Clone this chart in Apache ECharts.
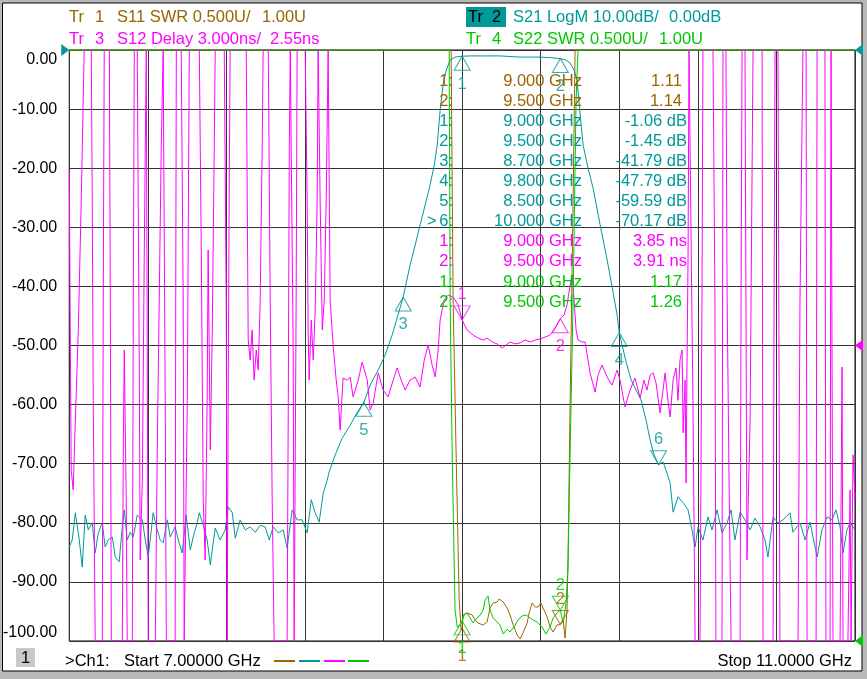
<!DOCTYPE html>
<html>
<head>
<meta charset="utf-8">
<script src="https://cdn.jsdelivr.net/npm/echarts@6/dist/echarts.min.js"></script>
<style>
html,body{margin:0;padding:0;background:#b8b8b8;}
#vna{width:867px;height:679px;}
</style>
</head>
<body>
<div id="vna"></div>
<script>
// sweep 7..11 GHz, [GHz, value] pairs
var s11Swr = [[7.000,6.0],[8.944,6.0],[8.954,3.885],[8.969,2.616],[8.985,1.347],[8.995,1.093],[9.000,1.11],[9.005,1.22],[9.025,1.237],[9.051,1.22],[9.066,1.178],[9.081,1.152],[9.107,1.135],[9.127,1.161],[9.142,1.279],[9.158,1.321],[9.178,1.33],[9.188,1.355],[9.209,1.33],[9.229,1.279],[9.244,1.22],[9.260,1.135],[9.280,1.051],[9.295,1.017],[9.310,1.068],[9.331,1.152],[9.341,1.237],[9.356,1.321],[9.372,1.288],[9.387,1.288],[9.402,1.321],[9.412,1.279],[9.433,1.203],[9.448,1.118],[9.463,1.076],[9.483,1.135],[9.500,1.14],[9.514,1.178],[9.524,1.025],[9.534,1.262],[9.539,1.685],[9.550,3.04],[9.565,4.73],[9.575,6.0],[11.000,6.0]];

var s21LogM = [[7.000,-84.1],[7.015,-82.9],[7.031,-78.3],[7.041,-78.2],[7.051,-82.9],[7.066,-87.5],[7.081,-78.7],[7.097,-81.2],[7.117,-80.0],[7.132,-85.1],[7.148,-81.7],[7.168,-80.0],[7.183,-84.1],[7.198,-82.9],[7.219,-82.4],[7.234,-85.8],[7.254,-86.6],[7.270,-80.7],[7.280,-77.8],[7.295,-82.9],[7.310,-81.6],[7.326,-82.4],[7.346,-78.7],[7.372,-79.5],[7.387,-82.9],[7.402,-85.8],[7.412,-82.9],[7.427,-78.3],[7.448,-81.2],[7.463,-82.9],[7.478,-83.4],[7.499,-79.5],[7.514,-82.4],[7.539,-80.7],[7.555,-82.9],[7.575,-85.1],[7.595,-78.7],[7.616,-84.6],[7.631,-82.4],[7.651,-80.0],[7.662,-78.3],[7.682,-80.4],[7.702,-82.9],[7.718,-87.1],[7.743,-80.9],[7.768,-82.9],[7.794,-81.2],[7.809,-77.3],[7.830,-78.3],[7.845,-82.6],[7.870,-79.5],[7.896,-81.2],[7.921,-80.7],[7.947,-81.6],[7.972,-80.4],[7.997,-80.7],[8.018,-82.9],[8.038,-80.7],[8.064,-81.7],[8.089,-81.2],[8.109,-84.3],[8.135,-77.8],[8.160,-79.5],[8.186,-79.5],[8.211,-81.7],[8.232,-76.1],[8.252,-78.3],[8.272,-79.9],[8.293,-75.0],[8.313,-72.8],[8.323,-71.4],
  [8.354,-68.5],[8.389,-65.7],[8.430,-63.5],[8.466,-61.3],[8.500,-59.59],[8.532,-56.7],[8.573,-54.1],[8.608,-51.6],[8.644,-48.2],[8.674,-44.8],[8.700,-41.79],[8.735,-36.4],[8.761,-33.0],[8.786,-29.6],[8.812,-26.2],[8.837,-22.8],[8.858,-19.5],[8.873,-16.1],[8.888,-10.2],[8.903,-5.9],[8.919,-3.4],[8.939,-1.7],[8.964,-1.2],[9.000,-1.06],[9.041,-1.0],[9.092,-1.0],[9.142,-1.0],[9.193,-1.0],[9.244,-1.1],[9.295,-1.2],[9.346,-1.2],[9.397,-1.2],[9.448,-1.3],[9.500,-1.45],[9.529,-1.7],[9.550,-2.2],[9.570,-3.4],[9.585,-5.1],[9.601,-11.0],[9.616,-16.1],[9.641,-20.0],[9.667,-23.4],[9.702,-29.5],[9.738,-35.5],[9.763,-40.0],[9.789,-44.8],[9.800,-47.79],[9.814,-49.9],[9.835,-52.8],[9.860,-55.8],[9.885,-57.5],[9.911,-59.2],[9.936,-62.6],[9.957,-66.0],[9.977,-68.5],[10.000,-70.17],[10.023,-69.7],[10.043,-71.6],[10.059,-73.3],[10.074,-78.2],[10.099,-75.6],[10.125,-76.6],[10.150,-77.8],
  [10.170,-81.2],[10.186,-84.1],[10.201,-80.7],[10.226,-82.9],[10.252,-79.0],[10.272,-81.2],[10.298,-77.8],[10.323,-81.7],[10.349,-80.0],[10.369,-77.8],[10.389,-82.9],[10.415,-78.2],[10.440,-79.5],[10.466,-81.2],[10.491,-79.2],[10.517,-80.7],[10.542,-82.9],[10.557,-85.8],[10.583,-79.0],[10.608,-80.0],[10.634,-79.5],[10.669,-78.3],[10.684,-81.6],[10.720,-80.0],[10.746,-82.9],[10.771,-79.9],[10.807,-85.8],[10.832,-81.2],[10.858,-79.0],[10.883,-79.5],[10.903,-77.8],[10.924,-80.7],[10.939,-85.1],[10.959,-81.2],[10.975,-80.0],[10.990,-80.7],[11.000,-81.2]];

// group delay, ns (off-scale parts sit on the top / bottom edge)
var s12Delay = [[7.000,11.36],[7.005,3.34],[7.010,-3.77],[7.020,-4.78],[7.031,-1.23],[7.046,3.34],[7.061,9.94],[7.076,17.55],
  [7.112,17.55],[7.117,9.94],[7.122,-0.24],[7.132,-12.45],
  [7.168,-12.45],[7.173,4.86],[7.178,17.55],
  [7.204,17.55],[7.209,4.86],[7.214,-12.45],
  [7.270,-12.45],[7.275,-2.75],[7.280,2.32],[7.290,-5.29],[7.295,-12.45],
  [7.321,-12.45],[7.326,4.86],[7.331,17.55],
  [7.346,17.55],[7.356,2.32],[7.361,-8.34],[7.372,-4.28],[7.382,7.40],[7.392,17.55],
  [7.397,17.55],[7.402,-12.45],
  [7.438,-12.45],[7.448,-2.75],[7.458,4.86],[7.468,12.47],[7.478,17.55],
  [7.483,17.55],[7.489,-1.23],[7.494,-12.45],
  [7.539,-12.45],[7.542,4.86],[7.545,17.55],
  [7.570,17.55],[7.580,4.86],[7.585,-12.45],
  [7.595,-12.45],[7.601,-0.24],[7.611,17.55],
  [7.662,17.55],[7.672,7.40],[7.682,-5.29],[7.692,-8.34],[7.702,-0.24],[7.707,7.40],[7.718,-2.75],[7.728,3.34],[7.738,12.47],[7.743,17.55],
  [7.789,17.55],[7.799,4.86],[7.804,-12.45],[7.809,-0.24],[7.814,9.94],[7.819,17.55],
  [7.901,17.55],[7.906,9.94],[7.911,2.83],[7.921,1.81],[7.931,3.34],[7.941,0.79],[7.952,2.32],[7.962,1.30],[7.972,4.86],[7.982,12.47],[7.987,17.55],
  [8.013,17.55],[8.023,4.86],[8.033,-5.29],[8.043,-12.45],
  [8.109,-12.45],[8.115,-0.24],[8.120,12.47],[8.125,17.55],
  [8.135,17.55],[8.140,2.32],[8.145,-12.45],[8.150,-12.45],[8.155,4.86],[8.160,17.55],
  [8.201,17.55],[8.211,9.94],[8.216,3.34],[8.221,0.79],[8.232,3.84],[8.242,1.81],[8.252,4.35],[8.262,9.94],[8.267,17.55],
  [8.272,17.55],[8.277,9.94],[8.288,3.34],[8.298,4.86],[8.308,9.94],[8.318,17.55],
  [8.323,17.55],[8.328,4.86],[8.344,2.47],[8.359,0.79],[8.369,-0.06],[8.379,-1.74],[8.394,0.90],[8.415,0.79],[8.430,0.95],[8.445,-0.06],[8.471,0.79],[8.491,1.71],[8.517,0.79],[8.532,-0.72],[8.547,-0.37],[8.573,1.16],[8.598,0.29],[8.623,-0.06],[8.649,0.79],[8.669,1.41],[8.690,0.79],[8.710,0.29],[8.735,0.79],[8.761,0.95],[8.786,0.44],[8.807,1.81],[8.827,2.58],[8.847,1.56],[8.863,0.95],[8.878,2.32],[8.888,3.84],[8.908,4.86],[8.929,5.11],[8.954,5.01],[8.980,4.61],
  [9.000,3.85],[9.025,3.34],[9.056,3.08],[9.081,2.93],[9.107,2.83],[9.127,2.93],[9.153,2.73],[9.178,2.63],[9.204,2.42],[9.224,2.58],[9.244,2.73],[9.270,2.63],[9.295,2.68],[9.321,2.83],[9.346,2.73],[9.372,2.83],[9.397,2.88],[9.422,2.98],[9.448,3.08],[9.473,3.44],[9.500,3.91],[9.519,4.10],[9.534,4.61],[9.550,5.62],[9.560,6.13],[9.570,4.86],[9.580,3.34],[9.590,2.83],[9.611,2.73],[9.626,2.73],[9.641,1.81],[9.651,1.16],[9.677,0.19],[9.692,1.05],[9.712,1.56],[9.738,0.95],[9.763,0.54],[9.789,1.30],[9.804,0.79],[9.829,-0.57],[9.855,0.29],[9.880,0.90],[9.906,-0.11],[9.926,0.79],[9.941,0.29],
  [9.957,1.05],[9.972,1.16],[9.987,0.65],[10.008,-0.88],[10.023,0.29],[10.033,1.16],[10.048,-0.24],[10.059,-1.08],[10.074,0.79],[10.089,1.41],[10.099,-0.24],[10.109,1.81],[10.120,2.32],[10.125,-1.88],[10.135,0.79],[10.140,-4.43],[10.145,1.81],[10.150,6.89],[10.155,17.55],
  [10.165,17.55],[10.170,3.95],[10.175,-0.24],[10.186,-12.45],
  [10.211,-12.45],[10.221,4.86],[10.226,17.55],
  [10.277,17.55],[10.287,4.86],[10.292,-12.45],
  [10.323,-12.45],[10.328,17.55],
  [10.343,17.55],[10.349,5.0],[10.359,-4.43],[10.369,-12.45],
  [10.415,-12.45],[10.420,4.86],[10.425,17.55],
  [10.440,17.55],[10.450,-8.34],[10.466,-1.23],[10.481,17.55],
  [10.527,17.55],[10.532,-12.45],
  [10.583,-12.45],[10.588,4.86],[10.593,17.55],
  [10.608,17.55],[10.618,-12.45],
  [10.710,-12.45],[10.720,4.86],[10.735,17.55],
  [10.751,17.55],[10.756,-12.45],
  [10.802,-12.45],[10.807,17.55],
  [10.847,17.55],[10.852,-12.45],
  [10.873,-12.45],[10.878,17.55],[10.883,17.55],[10.888,-12.45],
  [10.924,-12.45],[10.934,1.46],[10.939,-12.45],
  [10.964,-12.45],[10.975,-4.78],[10.980,-12.45],[10.985,-12.45],[10.990,-3.0],[11.000,-5.29]];

var s22Swr = [[7.000,6.0],[8.934,6.0],[8.939,3.885],[8.949,2.616],[8.964,1.262],[8.975,1.118],[8.990,1.135],[9.000,1.17],[9.010,1.22],[9.025,1.237],[9.041,1.195],[9.056,1.152],[9.076,1.195],[9.092,1.22],[9.107,1.262],[9.117,1.347],[9.132,1.381],[9.142,1.262],[9.158,1.195],[9.178,1.161],[9.193,1.135],[9.209,1.059],[9.229,1.10],[9.244,1.076],[9.270,1.135],[9.285,1.178],[9.305,1.212],[9.326,1.22],[9.346,1.195],[9.361,1.178],[9.382,1.161],[9.407,1.118],[9.427,1.059],[9.448,1.118],[9.463,1.195],[9.483,1.237],[9.500,1.26],[9.514,1.152],[9.529,1.321],[9.539,1.626],[9.550,2.616],[9.565,3.885],[9.580,5.577],[9.590,6.0],[11.000,6.0]];

// markers [GHz, value]; dn = 1 draws the triangle pointing down
var s11Mk = [[9.000,1.11],[9.500,1.14]];
var s11Dn = [0,1];
var s21Mk = [[9.000,-1.06],[9.500,-1.45],[8.700,-41.79],[9.800,-47.79],[8.500,-59.59],[10.000,-70.17]];
var s21Dn = [0,0,0,0,0,1];
var s12Mk = [[9.000,3.85],[9.500,3.91]];
var s12Dn = [1,0];
var s22Mk = [[9.000,1.17],[9.500,1.26]];
var s22Dn = [0,1];
var activeMk = 6;

var yTicks = [-100, 0, 10]; // min, max, step (dB)

var cS11 = '#996600', cS21 = '#009999', cS12 = '#ff00ff', cS22 = '#00c800';
var FONT = '"Liberation Sans", Arial, sans-serif';
var F16 = '16.5px ' + FONT;

var UP = 'path://M8,0L16,14L0,14Z';
var DN = 'path://M0,0L16,0L8,14Z';

function mkItems(list, dn) {
  return list.map(function (p, i) {
    return {
      name: String(i + 1),
      value: p,
      symbol: dn[i] ? DN : UP,
      symbolOffset: [0, dn[i] ? -7 : 7],
      label: {position: dn[i] ? 'top' : 'bottom', distance: dn[i] ? 2 : 5}
    };
  });
}

function lineSeries(data, color, yi) {
  return {type: 'line', data: data, yAxisIndex: yi, showSymbol: false, symbol: 'none',
    lineStyle: {color: color, width: 1}, itemStyle: {color: color}, silent: true, z: 2};
}

function mkSeries(list, dn, color, yi) {
  return {type: 'scatter', data: mkItems(list, dn), yAxisIndex: yi, symbolSize: [16, 14], silent: true, z: 5,
    itemStyle: {color: 'rgba(0,0,0,0)', borderColor: color, borderWidth: 1},
    label: {show: true, formatter: '{b}', color: color, fontSize: 16.5, fontFamily: FONT}};
}

function txt(s, x, y, color, align) {
  return {type: 'text', x: x, y: y, silent: true, z: 10,
    style: {text: s, fill: color, font: F16, textAlign: align || 'left', align: align || 'left',
      textVerticalAlign: 'middle', verticalAlign: 'middle'}};
}

var chart = echarts.init(document.getElementById('vna'));
chart.setOption({
  animation: false,
  backgroundColor: '#b8b8b8',
  grid: {left: 69, top: 50, width: 786, height: 591, show: true, borderColor: '#000', borderWidth: 1, backgroundColor: '#fff'},
  xAxis: [
    {type: 'value', min: 7, max: 11, show: false},
    // 10 horizontal divisions for the graticule
    {type: 'value', min: 0, max: 10, interval: 1, position: 'top',
      axisLine: {show: false}, axisTick: {show: false}, axisLabel: {show: false},
      splitLine: {show: true, lineStyle: {color: '#333', width: 1}}}
  ],
  yAxis: [
    {type: 'value', min: yTicks[0], max: yTicks[1], interval: yTicks[2],
      axisLine: {show: false}, axisTick: {show: false},
      splitLine: {show: true, lineStyle: {color: '#333', width: 1}},
      axisLabel: {color: '#000', fontSize: 16, fontFamily: FONT, margin: 12,
        formatter: function (v) {
          if (Math.abs(v) < 1e-9) return '{t|0.00}';
          if (v < -99.99) return '{b|-100.00}';
          return v.toFixed(2);
        },
        rich: {
          t: {padding: [20, 0, 0, 0], color: '#000', fontSize: 16, fontFamily: FONT},
          b: {padding: [0, 0, 16, 0], color: '#000', fontSize: 16, fontFamily: FONT}
        }}},
    {type: 'value', min: 1, max: 6, show: false},
    {type: 'value', min: -12.45, max: 17.55, show: false}
  ],
  series: [
    lineSeries(s11Swr, cS11, 1),
    lineSeries(s21LogM, cS21, 0),
    lineSeries(s12Delay, cS12, 2),
    lineSeries(s22Swr, cS22, 1),
    mkSeries(s11Mk, s11Dn, cS11, 1),
    mkSeries(s21Mk, s21Dn, cS21, 0),
    mkSeries(s12Mk, s12Dn, cS12, 2),
    mkSeries(s22Mk, s22Dn, cS22, 1)
  ]
});

// reference position arrows
var yRef21 = chart.convertToPixel({yAxisIndex: 0}, 0);
var yRef12 = chart.convertToPixel({yAxisIndex: 2}, 2.55);
var yRef22 = chart.convertToPixel({yAxisIndex: 1}, 1);
var xL = chart.convertToPixel({xAxisIndex: 0}, 7);
var xR = chart.convertToPixel({xAxisIndex: 0}, 11);

function arrow(x, y, dir, color) {
  return {type: 'polygon', silent: true, z: 10,
    shape: {points: [[x, y], [x - dir * 8, y - 6], [x - dir * 8, y + 6]]}, style: {fill: color}};
}

var g = [];
g.push({type: 'rect', z: -10, silent: true, shape: {x: 2.5, y: 3, width: 859.5, height: 668},
  style: {fill: '#fff', stroke: '#000', lineWidth: 1}});

// header
g.push(txt('Tr', 69, 17, cS11), txt('1', 95, 17, cS11), txt('S11 SWR 0.500U/', 117, 17, cS11), txt('1.00U', 262, 17, cS11));
g.push(txt('Tr', 69, 39, cS12), txt('3', 95, 39, cS12), txt('S12 Delay 3.000ns/', 117, 39, cS12), txt('2.55ns', 270, 39, cS12));
g.push({type: 'rect', silent: true, z: 9, shape: {x: 466, y: 7, width: 40, height: 20}, style: {fill: cS21}});
g.push(txt('Tr', 468, 17, '#000'), txt('2', 492, 17, '#000'), txt('S21 LogM 10.00dB/', 513, 17, cS21), txt('0.00dB', 669, 17, cS21));
g.push(txt('Tr', 466, 39, cS22), txt('4', 492, 39, cS22), txt('S22 SWR 0.500U/', 513, 39, cS22), txt('1.00U', 659, 39, cS22));

// marker table
var rows = [];
s11Mk.forEach(function (p, i) { rows.push([i + 1, p[0], p[1].toFixed(2), cS11, 0]); });
s21Mk.forEach(function (p, i) { rows.push([i + 1, p[0], p[1].toFixed(2) + ' dB', cS21, 1]); });
s12Mk.forEach(function (p, i) { rows.push([i + 1, p[0], p[1].toFixed(2) + ' ns', cS12, 1]); });
s22Mk.forEach(function (p, i) { rows.push([i + 1, p[0], p[1].toFixed(2), cS22, 0]); });
rows.forEach(function (r, i) {
  var y = 81 + i * 20.1;
  g.push(txt(r[0] + ':', 453, y, r[3], 'right'));
  g.push(txt(r[1].toFixed(3) + ' GHz', 582, y, r[3], 'right'));
  g.push(txt(r[2], r[4] ? 687 : 682, y, r[3], 'right'));
  if (r[3] === cS21 && r[0] === activeMk) g.push(txt('>', 427, y, r[3]));
});

// arrows at reference positions
g.push(arrow(xL, yRef21, 1, cS21), arrow(xR, yRef21, -1, cS21), arrow(xR, yRef12, -1, cS12), arrow(xR, yRef22, -1, cS22));

// footer
g.push({type: 'rect', silent: true, z: 9, shape: {x: 16, y: 648, width: 19, height: 19}, style: {fill: '#c8c8c8'}});
g.push(txt('1', 25.5, 658, '#000', 'center'));
g.push(txt('>Ch1:', 65, 661, '#000'), txt('Start 7.00000 GHz', 124, 661, '#000'));
g.push(txt('Stop 11.0000 GHz', 852, 661, '#000', 'right'));
[[274, cS11], [299, cS21], [324, cS12], [348, cS22]].forEach(function (d) {
  g.push({type: 'line', silent: true, z: 10, shape: {x1: d[0], y1: 661, x2: d[0] + 21, y2: 661}, style: {stroke: d[1], lineWidth: 2}});
});

chart.setOption({graphic: g});
</script>
</body>
</html>
